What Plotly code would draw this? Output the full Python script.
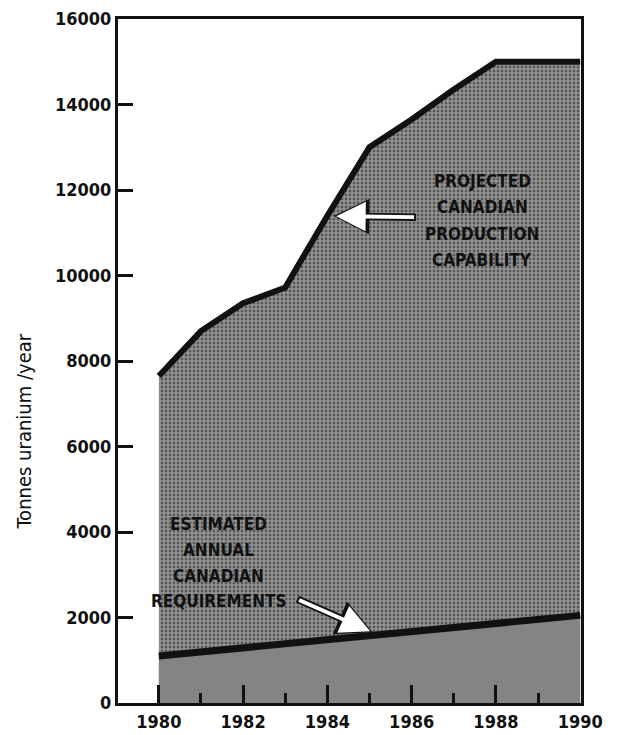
import plotly.graph_objects as go

# Data
prod_years = [1980, 1981, 1982, 1983, 1984, 1985, 1986, 1987, 1988, 1989, 1990]
prod_capability = [7650, 8700, 9350, 9720, 11400, 13000, 13650, 14350, 15000, 15000, 15000]
req_years = [1980, 1990]
req_values = [1100, 2050]
x_tick_vals = [1980, 1982, 1984, 1986, 1988, 1990]
y_tick_vals = [0, 2000, 4000, 6000, 8000, 10000, 12000, 14000, 16000]
prod_label = ["PROJECTED", "CANADIAN", "PRODUCTION", "CAPABILITY"]
req_label = ["ESTIMATED", "ANNUAL", "CANADIAN", "REQUIREMENTS"]

FONT = "DejaVu Sans Condensed, Liberation Sans Narrow, sans-serif"
INK = "#111111"

fig = go.Figure()

fig.add_trace(go.Scatter(
    x=prod_years, y=prod_capability, mode="lines",
    line=dict(color=INK, width=6),
    fill="tozeroy", fillcolor="#808080",
    fillpattern=dict(shape=".", bgcolor="#3c3c3c", fgcolor="#ececec",
                     size=4, solidity=0.75, fillmode="overlay"),
    hoverinfo="skip", showlegend=False,
))

fig.add_trace(go.Scatter(
    x=req_years, y=req_values, mode="lines",
    line=dict(color=INK, width=7),
    fill="tozeroy", fillcolor="#8a8a8a",
    fillpattern=dict(shape=".", bgcolor="#7c7c7c", fgcolor="#a2a2a2",
                     size=2, solidity=0.4, fillmode="overlay"),
    hoverinfo="skip", showlegend=False,
))

# Text labels (one line per annotation for control of line spacing)
prod_x, prod_y = 1987.68, [12204, 11598, 10970, 10364]
req_x, req_y = 1981.42, [4192, 3587, 2981, 2376]
for txt, yy in zip(prod_label, prod_y):
    fig.add_annotation(x=prod_x, y=yy, xref="x", yref="y", text=f"<b>{txt}</b>",
                       showarrow=False, font=dict(family=FONT, size=17, color=INK))
for txt, yy in zip(req_label, req_y):
    fig.add_annotation(x=req_x, y=yy, xref="x", yref="y", text=f"<b>{txt}</b>",
                       showarrow=False, font=dict(family=FONT, size=17, color=INK))

# Outlined white arrows (black under, white on top)
arrows = [
    dict(x=1984.15, y=11389, ax=1986.14, ay=11365),
    dict(x=1985.07, y=1654, ax=1983.25, ay=2445),
]
for a in arrows:
    fig.add_annotation(x=a["x"], y=a["y"], ax=a["ax"], ay=a["ay"],
                       xref="x", yref="y", axref="x", ayref="y",
                       text="", showarrow=True, arrowhead=2, arrowsize=0.95,
                       arrowwidth=7.5, arrowcolor=INK)
    fig.add_annotation(x=a["x"], y=a["y"], ax=a["ax"], ay=a["ay"],
                       xref="x", yref="y", axref="x", ayref="y",
                       text="", showarrow=True, arrowhead=2, arrowsize=1.55,
                       arrowwidth=3.8, arrowcolor="#ffffff", standoff=2.5,
                       startstandoff=2)

# Axis title as rotated text
fig.add_annotation(x=-0.203, y=0.397, xref="paper", yref="paper",
                   text="Tonnes uranium /year", textangle=-90, showarrow=False,
                   xanchor="center", yanchor="middle",
                   font=dict(family=FONT, size=20, color=INK))

fig.update_layout(
    width=618, height=735,
    margin=dict(l=110, r=45, t=11, b=40),
    paper_bgcolor="white", plot_bgcolor="white",
    font=dict(family=FONT, color=INK),
)

fig.update_xaxes(
    range=[1979.03, 1990.02], tickvals=x_tick_vals,
    ticktext=[str(v) for v in x_tick_vals],
    ticks="inside", ticklen=18, tickwidth=2.5, tickcolor=INK,
    minor=dict(dtick=1, tick0=1980, ticks="inside", ticklen=10, tickwidth=2.5,
               tickcolor=INK, showgrid=False),
    showgrid=False, zeroline=False,
    showline=True, linewidth=3, linecolor=INK, mirror=True,
    tickfont=dict(family=FONT, size=18, weight="bold", color=INK),
    ticklabeloverflow="allow", automargin=False,
)

fig.update_yaxes(
    range=[0, 16000], tickvals=y_tick_vals,
    ticktext=[str(v) for v in y_tick_vals],
    ticks="inside", ticklen=15, tickwidth=2.5, tickcolor=INK,
    showgrid=False, zeroline=False,
    showline=True, linewidth=3, linecolor=INK, mirror=True,
    tickfont=dict(family=FONT, size=18, weight="bold", color=INK),
    ticklabeloverflow="allow", automargin=False,
)

fig.write_html("out.html")
